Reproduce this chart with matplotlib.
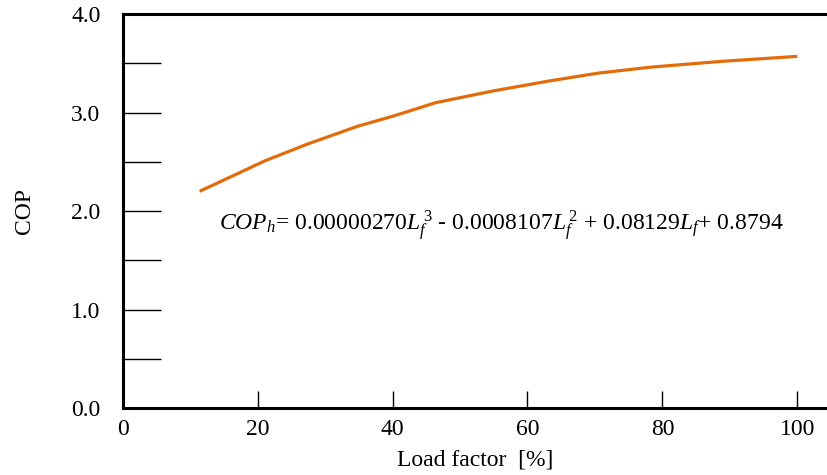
import matplotlib
matplotlib.use('Agg')
import matplotlib.pyplot as plt
from matplotlib.ticker import MultipleLocator

# values
load_factor = [11.4, 21.1, 27.4, 34.8, 40.4, 46.4, 55.0, 63.2, 70.5, 78.2, 88.9, 100.0]
cop = [2.20, 2.51, 2.68, 2.86, 2.97, 3.10, 3.22, 3.32, 3.40, 3.46, 3.52, 3.57]
x_ticks = [0, 20, 40, 60, 80, 100]
y_ticks = [0.0, 1.0, 2.0, 3.0, 4.0]
y_labels = ['0.0', '1.0', '2.0', '3.0', '4.0']
equation = (r'$COP_h$= 0.00000270$L_f^{\,3}$ - 0.0008107$L_f^{\,2}$'
            r' + 0.08129$L_f$+ 0.8794')

plt.rcParams['font.family'] = ['Liberation Serif', 'DejaVu Serif']
plt.rcParams['mathtext.fontset'] = 'custom'
plt.rcParams['mathtext.rm'] = 'Liberation Serif'
plt.rcParams['mathtext.it'] = 'Liberation Serif:italic'

fig = plt.figure(figsize=(8.27, 4.75), dpi=100)
ax = fig.add_axes([0.1484, 0.141, 0.8516, 0.8295])

ax.plot(load_factor, cop, color='#E36C0A', lw=2.3, solid_capstyle='butt')

ax.set_xlim(0, 104.4)
ax.set_ylim(0, 4.0)
ax.set_xticks(x_ticks)
ax.set_yticks(y_ticks)
ax.set_yticklabels(y_labels)
ax.yaxis.set_minor_locator(MultipleLocator(0.5))

ax.tick_params(axis='y', which='both', direction='in', length=27, width=1,
               labelsize=17, pad=16)
ax.tick_params(axis='x', which='both', direction='in', length=12, width=1,
               labelsize=17, pad=8)

for s in ['left', 'top', 'bottom']:
    ax.spines[s].set_linewidth(2.2)
ax.spines['right'].set_visible(False)

ax.set_xlabel('Load factor  [%]', fontsize=17, labelpad=7)
ax.set_ylabel('COP', fontsize=17, labelpad=26)

ax.text(14.2, 1.85, equation, fontsize=17, ha='left', va='center')

fig.savefig('out.png', dpi=100)
